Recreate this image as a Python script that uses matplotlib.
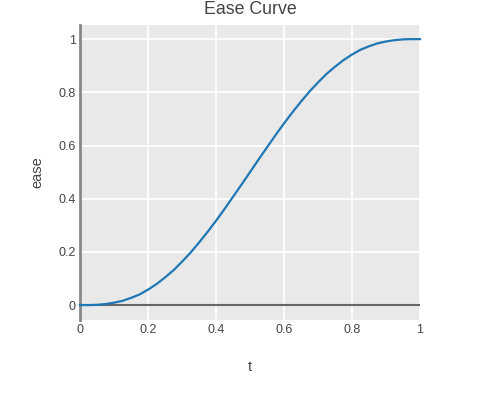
import matplotlib
matplotlib.use("Agg")
import matplotlib.pyplot as plt

# ── Data ──────────────────────────────────────────────────────────────────────
t_vals = [0.0, 0.025, 0.05, 0.075, 0.1, 0.125, 0.15, 0.175, 0.2, 0.225, 0.25,
          0.275, 0.3, 0.325, 0.35, 0.375, 0.4, 0.425, 0.45, 0.475, 0.5,
          0.525, 0.55, 0.575, 0.6, 0.625, 0.65, 0.675, 0.7, 0.725, 0.75,
          0.775, 0.8, 0.825, 0.85, 0.875, 0.9, 0.925, 0.95, 0.975, 1.0]
ease_vals = [0.0, 0.0001, 0.001, 0.004, 0.009, 0.016, 0.027, 0.040, 0.058, 0.079, 0.104,
             0.131, 0.163, 0.197, 0.235, 0.275, 0.317, 0.361, 0.407, 0.453, 0.5,
             0.547, 0.593, 0.639, 0.683, 0.725, 0.765, 0.803, 0.837, 0.869, 0.896,
             0.921, 0.942, 0.960, 0.973, 0.984, 0.991, 0.996, 0.999, 0.9999, 1.0]
x_ticks = [0, 0.2, 0.4, 0.6, 0.8, 1]
y_ticks = [0, 0.2, 0.4, 0.6, 0.8, 1]
tick_labels = ["0", "0.2", "0.4", "0.6", "0.8", "1"]

plt.rcParams["font.family"] = ["Liberation Sans", "DejaVu Sans"]
text_col = "#444444"

fig = plt.figure(figsize=(5, 4), dpi=100)
ax = fig.add_axes([80 / 500, 80 / 400, 340 / 500, 295 / 400])
ax.set_facecolor("#e9e9e9")

ax.plot(t_vals, ease_vals, color="#1f77b4", linewidth=1.6, zorder=3, clip_on=False)
ax.axhline(0, color="#666666", linewidth=1.5, zorder=2)

ax.set_xlim(0, 1)
ax.set_ylim(-0.056, 1.053)
ax.set_xticks(x_ticks)
ax.set_xticklabels(tick_labels)
ax.set_yticks(y_ticks)
ax.set_yticklabels(tick_labels)
ax.tick_params(length=0, labelsize=9, colors=text_col, pad=3)
ax.grid(color="white", linewidth=1.2, zorder=1)
ax.set_axisbelow(True)

for side in ["top", "right", "bottom"]:
    ax.spines[side].set_visible(False)
ax.spines["left"].set_color("#888888")
ax.spines["left"].set_linewidth(2)

ax.set_xlabel("t", fontsize=10.5, color=text_col, va="center")
ax.set_ylabel("ease", fontsize=10.5, color=text_col, va="center")
ax.xaxis.set_label_coords(0.5, -0.159)
ax.yaxis.set_label_coords(-0.126, 0.5)

fig.text(0.5, 1 - 9 / 400, "Ease Curve", ha="center", va="center",
         fontsize=12.75, color=text_col)

fig.savefig("out.png", dpi=100)
